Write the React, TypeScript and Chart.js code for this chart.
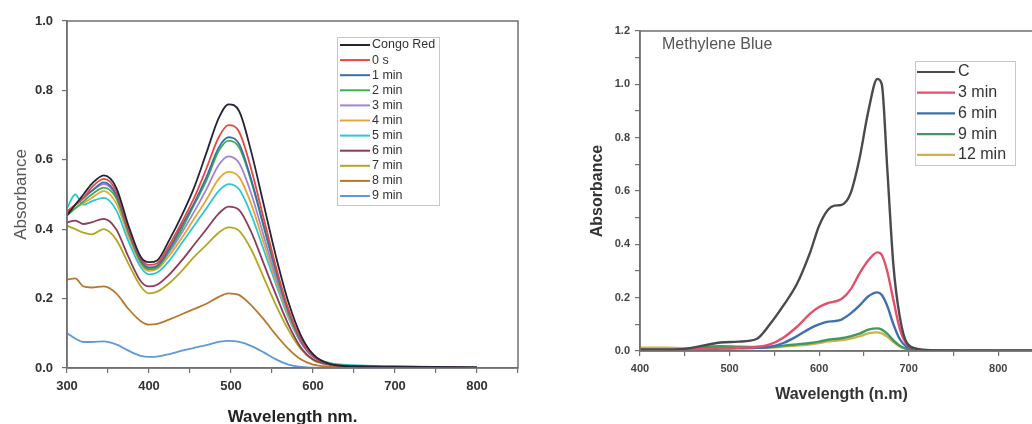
import React, { useEffect, useRef } from "react";
import { Chart, registerables } from "chart.js";

Chart.register(...registerables);

const FONT = "'Liberation Sans', Arial, Helvetica, sans-serif";

// ---------- Left chart: Congo Red ----------
const CR_WAVELENGTHS = [300, 310, 320, 330, 345, 360, 375, 390, 400, 410, 425, 440, 455, 470, 485, 497, 510, 525, 540, 555, 570, 585, 600, 620, 650, 700, 750, 800];
const CR_LABELS = ["Congo Red", "0 s", "1 min", "2 min", "3 min", "4 min", "5 min", "6 min", "7 min", "8 min", "9 min"];
const CR_COLORS = ["#23233a", "#e8483c", "#3b6ea8", "#3cb050", "#a083d6", "#e5a63a", "#2ec6d2", "#8e3a5c", "#b2a81e", "#b8772c", "#5d9ad6"];

const CR_CONGO = [0.44, 0.47, 0.50, 0.53, 0.555, 0.52, 0.41, 0.32, 0.305, 0.31, 0.37, 0.44, 0.52, 0.62, 0.72, 0.76, 0.74, 0.62, 0.47, 0.32, 0.19, 0.095, 0.04, 0.012, 0.005, 0.004, 0.003, 0.002];
const CR_0S = [0.45, 0.47, 0.49, 0.52, 0.545, 0.51, 0.40, 0.315, 0.297, 0.302, 0.355, 0.42, 0.49, 0.575, 0.665, 0.70, 0.68, 0.57, 0.43, 0.29, 0.17, 0.085, 0.035, 0.012, 0.005, 0.003, 0.002, 0.001];
const CR_1MIN = [0.45, 0.47, 0.49, 0.51, 0.535, 0.50, 0.395, 0.31, 0.29, 0.295, 0.345, 0.41, 0.475, 0.55, 0.635, 0.665, 0.645, 0.54, 0.41, 0.28, 0.165, 0.08, 0.034, 0.012, 0.005, 0.003, 0.002, 0.001];
const CR_2MIN = [0.44, 0.46, 0.48, 0.50, 0.52, 0.49, 0.39, 0.305, 0.285, 0.29, 0.34, 0.40, 0.47, 0.54, 0.625, 0.655, 0.635, 0.535, 0.405, 0.275, 0.16, 0.08, 0.035, 0.013, 0.006, 0.003, 0.002, 0.001];
const CR_3MIN = [0.45, 0.47, 0.49, 0.51, 0.53, 0.495, 0.39, 0.305, 0.285, 0.29, 0.335, 0.39, 0.45, 0.515, 0.585, 0.61, 0.59, 0.50, 0.38, 0.26, 0.155, 0.075, 0.033, 0.012, 0.005, 0.003, 0.002, 0.001];
const CR_4MIN = [0.44, 0.46, 0.475, 0.49, 0.51, 0.475, 0.38, 0.30, 0.28, 0.285, 0.325, 0.375, 0.43, 0.485, 0.545, 0.565, 0.55, 0.47, 0.36, 0.25, 0.15, 0.075, 0.033, 0.012, 0.005, 0.003, 0.002, 0.001];
const CR_5MIN = [0.46, 0.50, 0.47, 0.48, 0.49, 0.455, 0.365, 0.29, 0.27, 0.275, 0.31, 0.36, 0.41, 0.46, 0.51, 0.53, 0.515, 0.44, 0.34, 0.24, 0.145, 0.075, 0.035, 0.015, 0.008, 0.005, 0.003, 0.002];
const CR_6MIN = [0.42, 0.425, 0.415, 0.42, 0.43, 0.40, 0.32, 0.25, 0.235, 0.24, 0.27, 0.31, 0.355, 0.40, 0.445, 0.465, 0.455, 0.39, 0.30, 0.21, 0.125, 0.06, 0.025, 0.01, 0.004, 0.003, 0.002, 0.001];
const CR_7MIN = [0.41, 0.40, 0.39, 0.385, 0.40, 0.37, 0.30, 0.235, 0.215, 0.22, 0.245, 0.28, 0.32, 0.355, 0.39, 0.405, 0.395, 0.34, 0.26, 0.18, 0.11, 0.055, 0.023, 0.009, 0.004, 0.003, 0.002, 0.001];
const CR_8MIN = [0.255, 0.258, 0.235, 0.232, 0.235, 0.215, 0.17, 0.135, 0.125, 0.127, 0.14, 0.155, 0.17, 0.185, 0.205, 0.215, 0.21, 0.18, 0.14, 0.095, 0.055, 0.025, 0.01, 0.004, 0.002, 0.002, 0.001, 0.001];
const CR_9MIN = [0.10, 0.085, 0.075, 0.075, 0.077, 0.068, 0.05, 0.035, 0.032, 0.033, 0.04, 0.05, 0.058, 0.066, 0.075, 0.078, 0.075, 0.063, 0.045, 0.025, 0.01, 0.003, 0.001, 0, 0, 0, 0, 0];
const CR_SERIES = [CR_CONGO, CR_0S, CR_1MIN, CR_2MIN, CR_3MIN, CR_4MIN, CR_5MIN, CR_6MIN, CR_7MIN, CR_8MIN, CR_9MIN];

const CR_X_MIN = 300;
const CR_X_MAX = 850;
const CR_Y_MAX = 1.0;

// ---------- Right chart: Methylene Blue ----------
const MB_WAVELENGTHS = [400, 430, 450, 470, 490, 510, 530, 545, 560, 575, 590, 600, 610, 617, 625, 635, 645, 655, 665, 670, 676, 683, 690, 698, 710, 725, 750, 800, 850];
const MB_LABELS = ["C", "3 min", "6 min", "9 min", "12 min"];
const MB_COLORS = ["#4a4a4e", "#e2506a", "#3f6fae", "#3f9a62", "#d2b04a"];

const MB_C = [0.005, 0.005, 0.008, 0.02, 0.032, 0.035, 0.045, 0.10, 0.17, 0.25, 0.37, 0.47, 0.53, 0.545, 0.548, 0.59, 0.72, 0.90, 1.02, 1.0, 0.69, 0.32, 0.13, 0.03, 0.008, 0.003, 0.002, 0.001, 0.001];
const MB_3MIN = [0.004, 0.004, 0.005, 0.008, 0.01, 0.012, 0.015, 0.025, 0.05, 0.09, 0.14, 0.165, 0.18, 0.185, 0.195, 0.23, 0.29, 0.34, 0.37, 0.36, 0.30, 0.19, 0.085, 0.025, 0.006, 0.002, 0.001, 0.001, 0.001];
const MB_6MIN = [0.004, 0.004, 0.005, 0.007, 0.009, 0.01, 0.012, 0.015, 0.03, 0.055, 0.085, 0.10, 0.11, 0.112, 0.118, 0.14, 0.17, 0.205, 0.22, 0.21, 0.17, 0.10, 0.045, 0.015, 0.004, 0.002, 0.001, 0.001, 0.001];
const MB_9MIN = [0.006, 0.006, 0.008, 0.015, 0.018, 0.016, 0.015, 0.015, 0.02, 0.025, 0.03, 0.035, 0.042, 0.045, 0.048, 0.055, 0.065, 0.08, 0.085, 0.08, 0.065, 0.04, 0.02, 0.008, 0.003, 0.002, 0.001, 0.001, 0.001];
const MB_12MIN = [0.012, 0.012, 0.01, 0.012, 0.014, 0.013, 0.013, 0.013, 0.017, 0.02, 0.025, 0.03, 0.036, 0.038, 0.041, 0.047, 0.055, 0.066, 0.07, 0.066, 0.054, 0.034, 0.017, 0.007, 0.003, 0.002, 0.001, 0.001, 0.001];
const MB_SERIES = [MB_C, MB_3MIN, MB_6MIN, MB_9MIN, MB_12MIN];

const MB_X_MIN = 400;
const MB_X_MAX = 850;
const MB_Y_MAX = 1.2;
const MB_TITLE = "Methylene Blue";

type LegendSpec = {
  labels: string[];
  colors: string[];
  box: { x: number; y: number; w: number; h: number };
  rowY: number;
  rowGap: number;
  lineX0: number;
  lineX1: number;
  textX: number;
  fontSize: number;
  lineWidth: number;
};

function decorPlugin(id: string, legend: LegendSpec, note?: { text: string; x: number; y: number; size: number }) {
  return {
    id,
    afterDraw(chart: any) {
      const { ctx, chartArea: ca } = chart;
      ctx.save();
      // frame
      ctx.strokeStyle = "#707070";
      ctx.lineWidth = 1.5;
      ctx.strokeRect(ca.left, ca.top, ca.right - ca.left, ca.bottom - ca.top);
      // legend
      const b = legend.box;
      ctx.fillStyle = "#ffffff";
      ctx.fillRect(b.x, b.y, b.w, b.h);
      ctx.strokeStyle = "#c8c8c8";
      ctx.lineWidth = 1;
      ctx.strokeRect(b.x + 0.5, b.y + 0.5, b.w, b.h);
      ctx.font = `${legend.fontSize}px ${FONT}`;
      ctx.textBaseline = "middle";
      ctx.textAlign = "left";
      legend.labels.forEach((lab, i) => {
        const y = legend.rowY + i * legend.rowGap;
        ctx.strokeStyle = legend.colors[i];
        ctx.lineWidth = legend.lineWidth;
        ctx.beginPath();
        ctx.moveTo(legend.lineX0, y);
        ctx.lineTo(legend.lineX1, y);
        ctx.stroke();
        ctx.fillStyle = "#333333";
        ctx.fillText(lab, legend.textX, y);
      });
      if (note) {
        ctx.font = `${note.size}px ${FONT}`;
        ctx.fillStyle = "#555555";
        ctx.fillText(note.text, note.x, note.y);
      }
      ctx.restore();
    },
  };
}

function buildDatasets(xs: number[], series: number[][], labels: string[], colors: string[], width: number) {
  return series.map((ys, i) => ({
    label: labels[i],
    data: xs.map((x, j) => ({ x, y: ys[j] })),
    borderColor: colors[i],
    backgroundColor: colors[i],
    borderWidth: width,
    pointRadius: 0,
    cubicInterpolationMode: "monotone" as const,
    fill: false,
  }));
}

function leftConfig(): any {
  return {
    type: "line",
    data: { datasets: buildDatasets(CR_WAVELENGTHS, CR_SERIES, CR_LABELS, CR_COLORS, 1.8) },
    options: {
      animation: false,
      responsive: false,
      maintainAspectRatio: false,
      devicePixelRatio: 1,
      layout: { padding: { left: 0, top: 21, right: 2, bottom: 0 } },
      plugins: { legend: { display: false }, tooltip: { enabled: false } },
      scales: {
        x: {
          type: "linear",
          min: CR_X_MIN,
          max: CR_X_MAX,
          afterFit: (s: any) => { s.height = 56; },
          border: { color: "#707070", width: 1.5 },
          grid: { drawOnChartArea: false, tickLength: 5, color: "#707070", lineWidth: 1.2 },
          ticks: {
            stepSize: 50,
            autoSkip: false,
            maxRotation: 0,
            padding: 6,
            color: "#333",
            font: { family: FONT, size: 13, weight: "bold" },
            callback: (v: number) => (v % 100 === 0 ? String(v) : ""),
          },
          title: {
            display: true,
            text: "Wavelength nm.",
            color: "#222",
            font: { family: FONT, size: 17, weight: "bold", lineHeight: 0.8 },
            padding: { top: 0, bottom: 0 },
          },
        },
        y: {
          type: "linear",
          min: 0,
          max: CR_Y_MAX,
          afterFit: (s: any) => { s.width = 67; },
          border: { color: "#707070", width: 1.5 },
          grid: { drawOnChartArea: false, tickLength: 5, color: "#707070", lineWidth: 1.2 },
          ticks: {
            stepSize: 0.2,
            padding: 9,
            color: "#333",
            font: { family: FONT, size: 13, weight: "bold" },
            callback: (v: number) => v.toFixed(1),
          },
          title: {
            display: true,
            text: "Absorbance",
            color: "#555",
            font: { family: FONT, size: 17, weight: "normal", lineHeight: 1 },
            padding: { top: 13, bottom: 0 },
          },
        },
      },
    },
    plugins: [
      decorPlugin("crDecor", {
        labels: CR_LABELS,
        colors: CR_COLORS,
        box: { x: 337, y: 37, w: 102, h: 168 },
        rowY: 45,
        rowGap: 15.1,
        lineX0: 340,
        lineX1: 370,
        textX: 372,
        fontSize: 12.5,
        lineWidth: 2,
      }),
    ],
  };
}

function rightConfig(): any {
  return {
    type: "line",
    data: { datasets: buildDatasets(MB_WAVELENGTHS, MB_SERIES, MB_LABELS, MB_COLORS, 2.4) },
    options: {
      animation: false,
      responsive: false,
      maintainAspectRatio: false,
      devicePixelRatio: 1,
      layout: { padding: { left: 0, top: 31, right: 17, bottom: 0 } },
      plugins: { legend: { display: false }, tooltip: { enabled: false } },
      scales: {
        x: {
          type: "linear",
          min: MB_X_MIN,
          max: MB_X_MAX,
          afterFit: (s: any) => { s.height = 73; },
          border: { color: "#707070", width: 1.5 },
          grid: { drawOnChartArea: false, tickLength: 5, color: "#707070", lineWidth: 1.2 },
          ticks: {
            stepSize: 50,
            autoSkip: false,
            maxRotation: 0,
            padding: 6,
            color: "#444",
            font: { family: FONT, size: 11, weight: "bold" },
            callback: (v: number) => (v % 100 === 0 ? String(v) : ""),
          },
          title: {
            display: true,
            text: "Wavelength (n.m)",
            color: "#333",
            font: { family: FONT, size: 16, weight: "bold", lineHeight: 1 },
            padding: { top: 0, bottom: 21 },
          },
        },
        y: {
          type: "linear",
          min: 0,
          max: MB_Y_MAX,
          afterFit: (s: any) => { s.width = 120; },
          border: { color: "#707070", width: 1.5 },
          grid: { drawOnChartArea: false, tickLength: 5, color: "#707070", lineWidth: 1.2 },
          ticks: {
            stepSize: 0.1,
            autoSkip: false,
            padding: 5,
            color: "#444",
            font: { family: FONT, size: 11, weight: "bold" },
            callback: (v: number) => (Math.round(v * 10) % 2 === 0 ? v.toFixed(1) : ""),
          },
          title: {
            display: true,
            text: "Absorbance",
            color: "#333",
            font: { family: FONT, size: 16, weight: "bold", lineHeight: 1 },
            padding: { top: 70, bottom: 0 },
          },
        },
      },
    },
    plugins: [
      decorPlugin(
        "mbDecor",
        {
          labels: MB_LABELS,
          colors: MB_COLORS,
          box: { x: 395, y: 61, w: 100, h: 104 },
          rowY: 72,
          rowGap: 20.7,
          lineX0: 397,
          lineX1: 435,
          textX: 438,
          fontSize: 16,
          lineWidth: 2.2,
        },
        { text: MB_TITLE, x: 142, y: 45, size: 16 }
      ),
    ],
  };
}

function ChartCanvas({ makeConfig, left, width, height }: { makeConfig: () => any; left: number; width: number; height: number }) {
  const ref = useRef<HTMLCanvasElement>(null);
  useEffect(() => {
    if (!ref.current) return;
    const chart = new Chart(ref.current, makeConfig());
    return () => chart.destroy();
  }, [makeConfig]);
  return (
    <canvas
      ref={ref}
      width={width}
      height={height}
      style={{ position: "absolute", left, top: 0, width, height, display: "block" }}
    />
  );
}

export default function App() {
  return (
    <div
      style={{
        position: "fixed",
        left: 0,
        top: 0,
        width: 1032,
        height: 424,
        overflow: "hidden",
        background: "#ffffff",
      }}
    >
      <ChartCanvas makeConfig={leftConfig} left={0} width={524} height={424} />
      <ChartCanvas makeConfig={rightConfig} left={520} width={540} height={424} />
    </div>
  );
}
